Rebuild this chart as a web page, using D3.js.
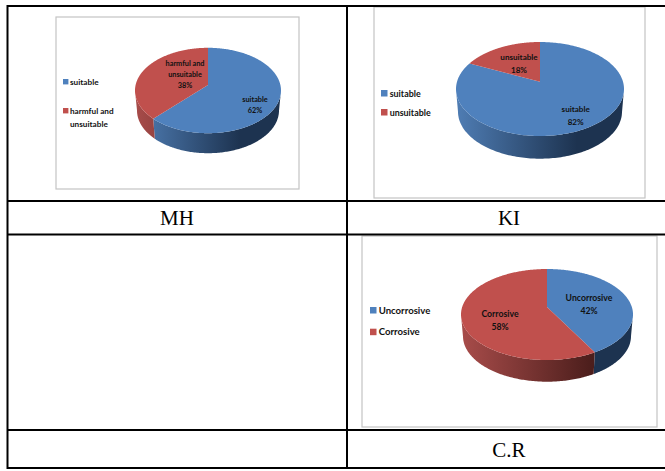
<!DOCTYPE html>
<html>
<head>
<meta charset="utf-8">
<script src="https://cdn.jsdelivr.net/npm/d3@7"></script>
<style>
html,body{margin:0;padding:0;background:#fff;overflow:hidden}
svg{display:block}
.lbl{font-family:Lato,"Open Sans",sans-serif;font-weight:700;fill:#111}
</style>
</head>
<body>
<svg id="page" width="665" height="471"></svg>
<script>
// Water-quality index results, share of samples in each class
const mhCategories = ["suitable", "harmful and unsuitable"];
const mhValues = [62, 38];
const kiCategories = ["suitable", "unsuitable"];
const kiValues = [82, 18];
const crCategories = ["Uncorrosive", "Corrosive"];
const crValues = [42, 58];
const rowCaptions = ["MH", "KI", "C.R"];

const palette = ["#4f81bd", "#c0504d"];
const sideStops = [
  [[0, "#4f7db4"], [0.72, "#1d3350"], [1, "#1d3350"]],
  [[0, "#a84c4a"], [0.76, "#4c1e1c"], [1, "#4c1e1c"]]
];

const svg = d3.select("#page");
const defs = svg.append("defs");

// Table rules
const rules = [
  [7.5, 6, 665, 6], [7.5, 201, 665, 201], [7.5, 234.5, 665, 234.5],
  [7.5, 430, 665, 430], [7.5, 468, 665, 468],
  [7.5, 5, 7.5, 469], [347, 5, 347, 469]
];

// Layout of each chart panel
const panels = [
  {
    id: "mh", categories: mhCategories, values: mhValues, frame: [56, 17, 243, 172],
    cx: 208, cy: 90.5, rx: 73, ry: 42.7, depth: 20, apex: -0.13, taper: 2,
    fontLegend: 8.2, fontLabel: 7.3, lh: 11.2,
    swatch: 5.4, legendX: 63, legendRows: [[79, [85]], [108, [113.5, 127]]],
    legendLines: [["suitable"], ["harmful and", "unsuitable"]],
    labelLines: [["suitable"], ["harmful and", "unsuitable"]],
    labelPos: [[255, 101.6], [185, 66]], textGap: 1.6
  },
  {
    id: "ki", categories: kiCategories, values: kiValues, frame: [374, 7, 271, 191],
    cx: 540, cy: 89, rx: 84, ry: 47, depth: 22.7, apex: -0.155, taper: 2,
    fontLegend: 8.9, fontLabel: 8.1, lh: 12.7,
    swatch: 6.5, legendX: 381, legendRows: [[90, [96.8]], [109, [116]]],
    legendLines: [["suitable"], ["unsuitable"]],
    labelLines: [["suitable"], ["unsuitable"]],
    labelPos: [[575.7, 112], [519, 60]], textGap: 2.2
  },
  {
    id: "cr", categories: crCategories, values: crValues, frame: [362, 236, 295, 191],
    cx: 547, cy: 314.5, rx: 86, ry: 45.5, depth: 21.7, apex: -0.165, taper: 2,
    fontLegend: 9.6, fontLabel: 8.7, lh: 13,
    swatch: 6.5, legendX: 370, legendRows: [[307, [314]], [328.7, [335]]],
    legendLines: [["Uncorrosive"], ["Corrosive"]],
    labelLines: [["Uncorrosive"], ["Corrosive"]],
    labelPos: [[589, 301], [500, 317]], textGap: 2.2
  }
];

const captionPos = [[177, 225], [509, 225], [509, 456.5]];

// Tilted-disc projection: moves the hub above the ellipse centre while
// keeping the rim on the ellipse
function rimPoint(angle, a) {
  const u = Math.sin(angle), v = -Math.cos(angle);
  const d = 1 + a * v;
  return [u * Math.sqrt(1 - a * a) / d, (v + a) / d];
}

const line = d3.line();

panels.forEach(p => {
  const g = svg.append("g").attr("class", p.id);

  g.append("rect")
    .attr("x", p.frame[0]).attr("y", p.frame[1])
    .attr("width", p.frame[2]).attr("height", p.frame[3])
    .attr("fill", "#fff").attr("stroke", "#c4c4c4").attr("stroke-width", 1.2);

  const arcs = d3.pie().sort(null)(p.values);
  const xs = d3.scaleLinear().domain([-1, 1]).range([p.cx - p.rx, p.cx + p.rx]);
  const ys = d3.scaleLinear().domain([-1, 1]).range([p.cy - p.ry, p.cy + p.ry]);
  const xb = d3.scaleLinear().domain([-1, 1]).range([p.cx - p.rx + p.taper, p.cx + p.rx - p.taper]);
  const yb = d3.scaleLinear().domain([-1, 1]).range([p.cy - p.ry + p.depth, p.cy + p.ry + p.depth]);

  const sample = d => d3.range(0, 241).map(i =>
    rimPoint(d.startAngle + (d.endAngle - d.startAngle) * i / 240, p.apex));

  // Side wall, visible only along the front half of the rim
  arcs.forEach((d, i) => {
    const gradId = `${p.id}-side-${i}`;
    const grad = defs.append("linearGradient").attr("id", gradId)
      .attr("gradientUnits", "userSpaceOnUse")
      .attr("x1", p.cx - p.rx).attr("x2", p.cx + p.rx).attr("y1", 0).attr("y2", 0);
    grad.selectAll("stop").data(sideStops[i]).join("stop")
      .attr("offset", s => s[0])
      .attr("stop-color", s => s[1]);

    const rim = sample(d).filter(q => q[1] >= 0);
    if (rim.length) {
      const outline = rim.map(q => [xs(q[0]), ys(q[1])])
        .concat(rim.slice().reverse().map(q => [xb(q[0]), yb(q[1])]));
      g.append("path").attr("d", line(outline) + "Z").attr("fill", `url(#${gradId})`);
    }
  });

  // Top face
  arcs.forEach((d, i) => {
    const pts = [[xs(0), ys(p.apex)]].concat(sample(d).map(q => [xs(q[0]), ys(q[1])]));
    g.append("path").attr("d", line(pts) + "Z").attr("fill", palette[i]);
  });

  // Slice labels: category lines followed by the percentage
  arcs.forEach((d, i) => {
    const lines = p.labelLines[i].concat(`${p.values[i]}%`);
    const t = g.append("text").attr("class", "lbl")
      .attr("text-anchor", "middle").attr("font-size", p.fontLabel);
    lines.forEach((s, k) => t.append("tspan")
      .attr("x", p.labelPos[i][0])
      .attr("y", p.labelPos[i][1] + k * p.lh)
      .text(s));
  });

  // Legend
  p.categories.forEach((c, i) => {
    g.append("rect")
      .attr("x", p.legendX).attr("y", p.legendRows[i][0])
      .attr("width", p.swatch).attr("height", p.swatch)
      .attr("fill", palette[i]);
    p.legendLines[i].forEach((s, k) => g.append("text").attr("class", "lbl")
      .attr("x", p.legendX + p.swatch + p.textGap)
      .attr("y", p.legendRows[i][1][k])
      .attr("font-size", p.fontLegend)
      .text(s));
  });
});

svg.append("g").selectAll("line").data(rules).join("line")
  .attr("x1", r => r[0]).attr("y1", r => r[1])
  .attr("x2", r => r[2]).attr("y2", r => r[3])
  .attr("stroke", "#000").attr("stroke-width", 2);

svg.append("g").selectAll("text").data(rowCaptions).join("text")
  .attr("x", (c, i) => captionPos[i][0]).attr("y", (c, i) => captionPos[i][1])
  .attr("text-anchor", "middle")
  .attr("font-family", "'Liberation Serif',serif")
  .attr("font-size", 21).attr("fill", "#000")
  .text(c => c);
</script>
</body>
</html>
